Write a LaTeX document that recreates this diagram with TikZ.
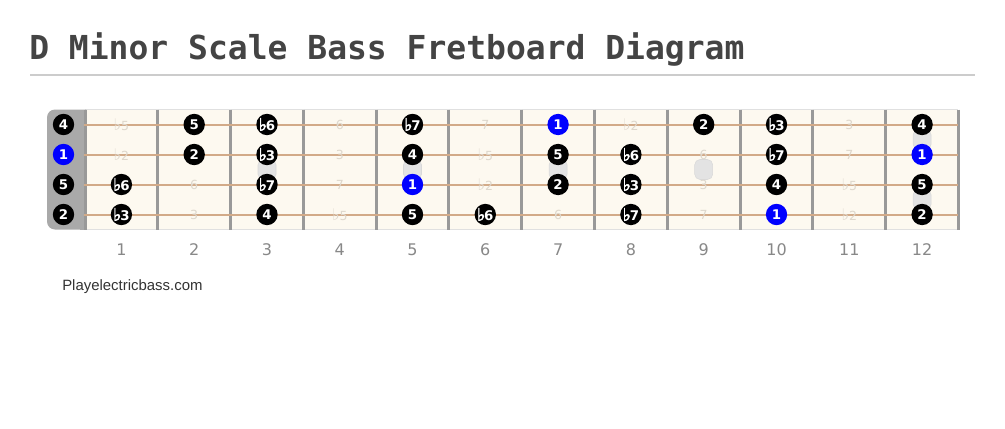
\documentclass[tikz,border=0pt]{standalone}
\usepackage{fontspec}
\usepackage{tikz}
\usetikzlibrary{positioning}
\newfontfamily\headfont{DejaVu Sans Mono}
\newfontfamily\notefont{DejaVu Sans}
\newfontfamily\flatfont[FakeBold=2.5]{DejaVu Sans}
\newfontfamily\sitefont{Liberation Sans}
\newcommand{\bemol}{{\flatfont\fontsize{13}{13}\selectfont ♭}\kern-0.8pt}
\newcommand{\bemolthin}{{\fontsize{12}{12}\selectfont ♭}}
\definecolor{headgray}{HTML}{444444}
\definecolor{rulegray}{HTML}{CCCCCC}
\definecolor{boardfill}{HTML}{FDF9F0}
\definecolor{nutgray}{HTML}{A9A9A9}
\definecolor{fretgray}{HTML}{999999}
\definecolor{stringtan}{HTML}{D2AA88}
\definecolor{ghostgray}{HTML}{DED7CC}
\definecolor{numgray}{HTML}{888888}
\definecolor{markfill}{HTML}{E3E3E3}
\definecolor{sitegray}{HTML}{333333}

\begin{document}
\begin{tikzpicture}[x=0.75pt,y=-0.75pt]
\tikzstyle{tone}=[circle, minimum size=16pt, inner sep=0pt, fill=black, text=white, font=\notefont\bfseries\fontsize{10}{10}\selectfont]
\tikzstyle{root}=[tone, fill=blue]
\tikzstyle{ghost}=[inner sep=0pt, text=ghostgray, font=\notefont\fontsize{9.4}{10}\selectfont]
\tikzstyle{fretnum}=[inner sep=0pt, text=numgray, font=\notefont\fontsize{12}{14}\selectfont]
\tikzstyle{inlay}=[rectangle, rounded corners=4pt, minimum width=13.5pt, minimum height=15pt, fill=markfill, draw=black!15, thin]
\tikzstyle{fret}=[draw=fretgray, line width=2.25pt]
\tikzstyle{string}=[draw=stringtan, line width=1.5pt]

\fill[white] (0,0) rectangle (1005,428);
\useasboundingbox (0,0) rectangle (1005,428);

% title and rule
\node[anchor=base west, inner sep=0pt, text=headgray, font=\headfont\bfseries\fontsize{24.75}{28}\selectfont] (title) at (29,59.5) {D Minor Scale Bass Fretboard Diagram};
\draw[rulegray, line width=1.5pt] (30,75) -- (975,75);

% board and nut
\fill[boardfill] (85,109.5) rectangle (958.4,229.5);
\draw[black!12, thin] (85,109.5) -- (958.4,109.5) (85,229.5) -- (958.4,229.5);
\fill[nutgray, rounded corners=6pt] (86,109.5) -- (47,109.5) -- (47,229.5) -- (86,229.5);
\fill[nutgray] (80,109.5) rectangle (86,229.5);

% frets
\path[fret] (85,109.5) -- (85,229.5)
	(157.8,109.5) -- (157.8,229.5)
	(230.6,109.5) -- (230.6,229.5)
	(303.3,109.5) -- (303.3,229.5)
	(376.1,109.5) -- (376.1,229.5)
	(448.9,109.5) -- (448.9,229.5)
	(521.7,109.5) -- (521.7,229.5)
	(594.5,109.5) -- (594.5,229.5)
	(667.2,109.5) -- (667.2,229.5)
	(740.0,109.5) -- (740.0,229.5)
	(812.8,109.5) -- (812.8,229.5)
	(885.6,109.5) -- (885.6,229.5)
	(958.4,109.5) -- (958.4,229.5);

% inlays
\node[inlay] (m_3) at (267.0,169.5) {};
\node[inlay] (m_5) at (412.5,169.5) {};
\node[inlay] (m_7) at (558.1,169.5) {};
\node[inlay] (m_9) at (703.7,169.5) {};
\node[inlay] (m_12a) at (922.1,139.5) {};
\node[inlay] (m_12b) at (922.1,199.5) {};

% strings
\path[string] (84,124.5) -- (958.4,124.5)
	(84,154.5) -- (958.4,154.5)
	(84,184.5) -- (958.4,184.5)
	(84,214.5) -- (958.4,214.5);

% G string
	\node[tone] (g_0) at (63.5,124.5) {4};
	\node[ghost] (g_1) at (121.4,124.5) {\bemolthin5};
	\node[tone] (g_2) at (194.2,124.5) {5};
	\node[tone] (g_3) at (267.0,124.5) {\bemol6};
	\node[ghost] (g_4) at (339.8,124.5) {6};
	\node[tone] (g_5) at (412.5,124.5) {\bemol7};
	\node[ghost] (g_6) at (485.3,124.5) {7};
	\node[root] (g_7) at (558.1,124.5) {1};
	\node[ghost] (g_8) at (630.9,124.5) {\bemolthin2};
	\node[tone] (g_9) at (703.7,124.5) {2};
	\node[tone] (g_10) at (776.5,124.5) {\bemol3};
	\node[ghost] (g_11) at (849.3,124.5) {3};
	\node[tone] (g_12) at (922.1,124.5) {4};

% D string
	\node[root] (d_0) at (63.5,154.5) {1};
	\node[ghost] (d_1) at (121.4,154.5) {\bemolthin2};
	\node[tone] (d_2) at (194.2,154.5) {2};
	\node[tone] (d_3) at (267.0,154.5) {\bemol3};
	\node[ghost] (d_4) at (339.8,154.5) {3};
	\node[tone] (d_5) at (412.5,154.5) {4};
	\node[ghost] (d_6) at (485.3,154.5) {\bemolthin5};
	\node[tone] (d_7) at (558.1,154.5) {5};
	\node[tone] (d_8) at (630.9,154.5) {\bemol6};
	\node[ghost] (d_9) at (703.7,154.5) {6};
	\node[tone] (d_10) at (776.5,154.5) {\bemol7};
	\node[ghost] (d_11) at (849.3,154.5) {7};
	\node[root] (d_12) at (922.1,154.5) {1};

% A string
	\node[tone] (a_0) at (63.5,184.5) {5};
	\node[tone] (a_1) at (121.4,184.5) {\bemol6};
	\node[ghost] (a_2) at (194.2,184.5) {6};
	\node[tone] (a_3) at (267.0,184.5) {\bemol7};
	\node[ghost] (a_4) at (339.8,184.5) {7};
	\node[root] (a_5) at (412.5,184.5) {1};
	\node[ghost] (a_6) at (485.3,184.5) {\bemolthin2};
	\node[tone] (a_7) at (558.1,184.5) {2};
	\node[tone] (a_8) at (630.9,184.5) {\bemol3};
	\node[ghost] (a_9) at (703.7,184.5) {3};
	\node[tone] (a_10) at (776.5,184.5) {4};
	\node[ghost] (a_11) at (849.3,184.5) {\bemolthin5};
	\node[tone] (a_12) at (922.1,184.5) {5};

% E string
	\node[tone] (e_0) at (63.5,214.5) {2};
	\node[tone] (e_1) at (121.4,214.5) {\bemol3};
	\node[ghost] (e_2) at (194.2,214.5) {3};
	\node[tone] (e_3) at (267.0,214.5) {4};
	\node[ghost] (e_4) at (339.8,214.5) {\bemolthin5};
	\node[tone] (e_5) at (412.5,214.5) {5};
	\node[tone] (e_6) at (485.3,214.5) {\bemol6};
	\node[ghost] (e_7) at (558.1,214.5) {6};
	\node[tone] (e_8) at (630.9,214.5) {\bemol7};
	\node[ghost] (e_9) at (703.7,214.5) {7};
	\node[root] (e_10) at (776.5,214.5) {1};
	\node[ghost] (e_11) at (849.3,214.5) {\bemolthin2};
	\node[tone] (e_12) at (922.1,214.5) {2};

% fret numbers
	\node[fretnum] (f_1) at (121.4,249.5) {1};
	\node[fretnum] (f_2) at (194.2,249.5) {2};
	\node[fretnum] (f_3) at (267.0,249.5) {3};
	\node[fretnum] (f_4) at (339.8,249.5) {4};
	\node[fretnum] (f_5) at (412.5,249.5) {5};
	\node[fretnum] (f_6) at (485.3,249.5) {6};
	\node[fretnum] (f_7) at (558.1,249.5) {7};
	\node[fretnum] (f_8) at (630.9,249.5) {8};
	\node[fretnum] (f_9) at (703.7,249.5) {9};
	\node[fretnum] (f_10) at (776.5,249.5) {10};
	\node[fretnum] (f_11) at (849.3,249.5) {11};
	\node[fretnum] (f_12) at (922.1,249.5) {12};

\node[anchor=base west, inner sep=0pt, text=sitegray, font=\sitefont\fontsize{11.2}{12}\selectfont] (site) at (62,290) {Playelectricbass.com};
\end{tikzpicture}
\end{document}
